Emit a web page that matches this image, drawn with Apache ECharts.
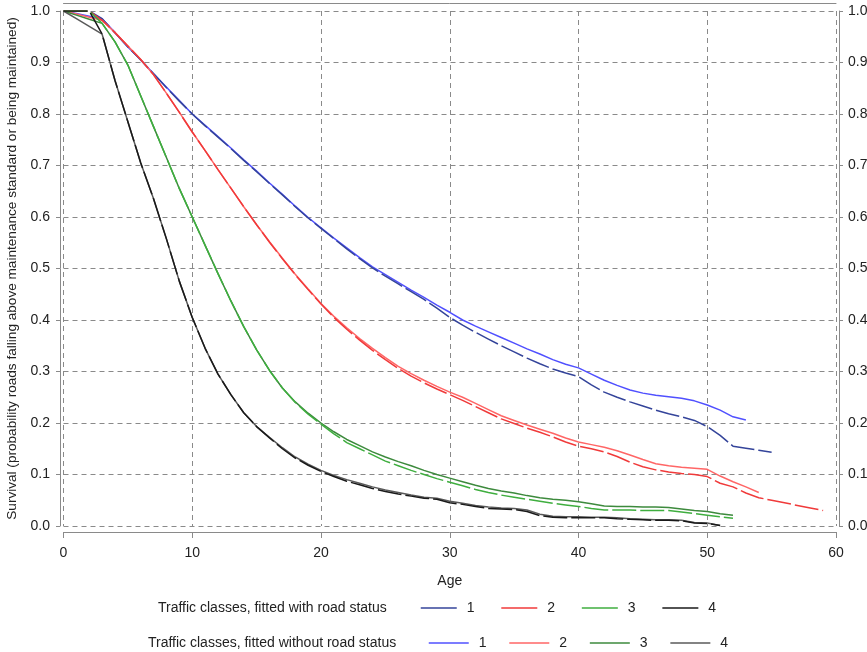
<!DOCTYPE html>
<html lang="en">
<head>
<meta charset="UTF-8">
<title>Survival by traffic class</title>
<script src="https://cdn.jsdelivr.net/npm/echarts@6/dist/echarts.min.js"></script>
<style>
  html, body { margin: 0; padding: 0; background: #fff; }
</style>
</head>
<body>
<div id="main" style="width: 867px;height: 652px"></div>
<script>
// ages (x axis)
var ages = [0,1,2,3,4,5,6,7,8,9,10,11,12,13,14,15,16,17,18,19,20,21,22,23,24,25,26,27,28,29,
            30,31,32,33,34,35,36,37,38,39,40,41,42,43,44,45,46,47,48,49,50,51,52,53,54,55,56,57,58,59];
var xTicks = [0, 10, 20, 30, 40, 50, 60];
var yTicks = [0.0, 0.1, 0.2, 0.3, 0.4, 0.5, 0.6, 0.7, 0.8, 0.9, 1.0];
var classNames = ["1", "2", "3", "4"];

// fitted with road status (dashed)
var with1 = [1.0,1.0,1.0,0.985,0.958,0.93,0.905,0.878,0.851,0.825,0.8,0.777,0.755,0.733,0.71,0.688,0.665,0.643,0.62,0.598,
             0.578,0.558,0.538,0.519,0.501,0.485,0.47,0.455,0.44,0.423,0.405,0.39,0.376,0.363,0.35,0.338,0.326,0.315,0.305,0.297,
             0.29,0.274,0.26,0.25,0.241,0.233,0.225,0.218,0.212,0.205,0.193,0.176,0.155,0.151,0.147,0.143];
var with2 = [1.0,1.0,1.0,0.982,0.958,0.932,0.906,0.876,0.84,0.803,0.765,0.729,0.692,0.656,0.62,0.585,0.551,0.519,0.488,0.459,
             0.431,0.405,0.382,0.361,0.341,0.323,0.306,0.291,0.278,0.266,0.255,0.244,0.232,0.22,0.208,0.199,0.19,0.182,0.173,0.163,
             0.155,0.15,0.144,0.135,0.124,0.115,0.109,0.105,0.102,0.1,0.096,0.083,0.076,0.064,0.055,0.05,0.045,0.04,0.035,0.03];
var with3 = [1.0,1.0,1.0,0.976,0.94,0.895,0.835,0.775,0.715,0.655,0.6,0.545,0.49,0.437,0.387,0.342,0.302,0.268,0.24,0.217,
             0.198,0.179,0.162,0.15,0.138,0.126,0.117,0.108,0.1,0.092,0.085,0.078,0.071,0.065,0.06,0.056,0.052,0.048,0.044,0.041,
             0.038,0.034,0.031,0.031,0.031,0.03,0.03,0.03,0.027,0.024,0.021,0.018,0.015];
var with4 = [1.0,1.0,1.0,0.955,0.865,0.785,0.705,0.635,0.557,0.475,0.405,0.345,0.295,0.255,0.22,0.193,0.171,0.15,0.132,0.118,
             0.106,0.096,0.087,0.08,0.073,0.067,0.062,0.058,0.054,0.052,0.045,0.042,0.038,0.034,0.033,0.032,0.028,0.02,0.017,0.016,
             0.016,0.016,0.016,0.014,0.013,0.012,0.011,0.011,0.01,0.006,0.005,0.001];

// fitted without road status (solid)
var without1 = [1.0,0.995,0.99,0.985,0.958,0.93,0.905,0.878,0.852,0.826,0.8,0.778,0.756,0.734,0.711,0.689,0.666,0.644,0.621,0.599,
                0.579,0.559,0.54,0.521,0.503,0.488,0.473,0.458,0.444,0.429,0.415,0.40,0.388,0.377,0.366,0.355,0.344,0.334,0.323,0.314,
                0.307,0.295,0.283,0.273,0.264,0.258,0.254,0.251,0.248,0.243,0.235,0.225,0.212,0.206];
var without2 = [1.0,0.994,0.988,0.982,0.958,0.932,0.906,0.876,0.84,0.803,0.765,0.729,0.692,0.656,0.62,0.585,0.552,0.52,0.489,0.46,
                0.432,0.407,0.385,0.364,0.345,0.327,0.31,0.296,0.283,0.271,0.26,0.25,0.238,0.226,0.214,0.205,0.196,0.188,0.18,0.171,
                0.163,0.158,0.153,0.146,0.138,0.129,0.121,0.117,0.114,0.112,0.11,0.097,0.086,0.076,0.065];
var without3 = [1.0,0.992,0.984,0.976,0.94,0.895,0.835,0.775,0.715,0.655,0.6,0.545,0.49,0.437,0.387,0.342,0.302,0.268,0.241,0.219,
                0.2,0.183,0.168,0.156,0.144,0.134,0.125,0.117,0.108,0.1,0.093,0.086,0.079,0.073,0.068,0.064,0.059,0.055,0.052,0.05,
                0.047,0.043,0.039,0.038,0.038,0.037,0.037,0.036,0.033,0.03,0.028,0.024,0.021];
var without4 = [1.0,0.985,0.97,0.955,0.865,0.785,0.705,0.635,0.557,0.475,0.405,0.345,0.295,0.255,0.22,0.193,0.172,0.152,0.134,0.12,
                0.108,0.098,0.09,0.083,0.076,0.07,0.065,0.06,0.056,0.054,0.048,0.044,0.04,0.037,0.035,0.034,0.031,0.023,0.019,0.018,
                0.018,0.017,0.017,0.016,0.014,0.013,0.012,0.012,0.011,0.007,0.006,0.001];

var withColors = ["#34449a", "#f03a3a", "#3fae3f", "#1a1a1a"];
var withoutColors = ["#5050ff", "#ff6666", "#3d8a3d", "#5a5a5a"];

var font = "Liberation Sans, Arial, sans-serif";
var axisGrey = "#8a8a8a";

function pairs(vals) {
    var out = [];
    for (var i = 0; i < vals.length; i++) out.push([ages[i], vals[i]]);
    return out;
}

var withSets = [with1, with2, with3, with4];
var withoutSets = [without1, without2, without3, without4];
var series = [];
for (var k = 0; k < 4; k++) {
    series.push({
        name: "without " + classNames[k], type: "line", symbol: "none", data: pairs(withoutSets[k]),
        lineStyle: {color: withoutColors[k], width: 1.5}, itemStyle: {color: withoutColors[k]}
    });
    series.push({
        name: "with " + classNames[k], type: "line", symbol: "none", data: pairs(withSets[k]),
        lineStyle: {color: withColors[k], width: 1.5, type: [24, 4]}, itemStyle: {color: withColors[k]}
    });
}

function legendRow(names, left, top, iconW, gap) {
    return {
        left: left, top: top, padding: 0, itemWidth: iconW, itemHeight: 14, itemGap: gap, selectedMode: false,
        data: names,
        formatter: function (n) { return n.split(" ")[1]; },
        textStyle: {fontSize: 14, color: "#222", fontFamily: font, padding: [0, 0, 0, 5]},
        lineStyle: {type: "solid", width: 1.5},
        itemStyle: {opacity: 0}
    };
}

var myChart = echarts.init(document.getElementById("main"));
myChart.setOption({
    animation: false,
    grid: {left: 63.5, right: 31, top: 11, bottom: 126, containLabel: false, outerBoundsMode: "none"},
    xAxis: [{
        type: "value", min: xTicks[0], max: xTicks[xTicks.length - 1], interval: 10,
        offset: 6,
        name: "Age", nameLocation: "middle", nameGap: 42,
        nameTextStyle: {fontSize: 14, color: "#222", fontFamily: font},
        axisLine: {show: true, onZero: false, lineStyle: {color: axisGrey, width: 1}},
        axisTick: {show: true, length: 6, lineStyle: {color: axisGrey}},
        axisLabel: {fontSize: 14, color: "#222", fontFamily: font, margin: 14},
        splitLine: {show: true, lineStyle: {color: axisGrey, type: [5, 4], width: 1}}
    }, {
        type: "value", position: "top", min: 0, max: 60, interval: 10, offset: 8,
        axisLine: {show: true, onZero: false, lineStyle: {color: axisGrey, width: 1}},
        axisTick: {show: false}, axisLabel: {show: false}, splitLine: {show: false}
    }],
    yAxis: [{
        type: "value", min: yTicks[0], max: yTicks[yTicks.length - 1], interval: 0.1,
        offset: 3.5,
        name: "Survival (probability roads falling above maintenance standard or being maintained)",
        nameLocation: "middle", nameGap: 38, nameRotate: 90,
        nameTextStyle: {fontSize: 13.6, color: "#222", fontFamily: font},
        axisLine: {show: true, onZero: false, lineStyle: {color: axisGrey, width: 1}},
        axisTick: {show: true, length: 4, lineStyle: {color: axisGrey}},
        axisLabel: {fontSize: 14, color: "#222", fontFamily: font, margin: 10,
                    formatter: function (v) { return v.toFixed(1); }},
        splitLine: {show: true, lineStyle: {color: axisGrey, type: [5, 4], width: 1}}
    }, {
        type: "value", position: "right", min: 0, max: 1, interval: 0.1, offset: 3,
        axisLine: {show: true, onZero: false, lineStyle: {color: axisGrey, width: 1}},
        axisTick: {show: true, length: 4, lineStyle: {color: axisGrey}},
        axisLabel: {fontSize: 14, color: "#222", fontFamily: font, margin: 9,
                    formatter: function (v) { return v.toFixed(1); }},
        splitLine: {show: false}
    }],
    legend: [
        legendRow(["with 1", "with 2", "with 3", "with 4"], 420, 601, 36, 26),
        legendRow(["without 1", "without 2", "without 3", "without 4"], 428, 636, 40, 22)
    ],
    graphic: [{
        type: "text", left: 158, top: 601,
        style: {text: "Traffic classes, fitted with road status", fontSize: 14, fill: "#222", fontFamily: font}
    }, {
        type: "text", left: 148, top: 636,
        style: {text: "Traffic classes, fitted without road status", fontSize: 14, fill: "#222", fontFamily: font}
    }],
    series: series
});
</script>
</body>
</html>
